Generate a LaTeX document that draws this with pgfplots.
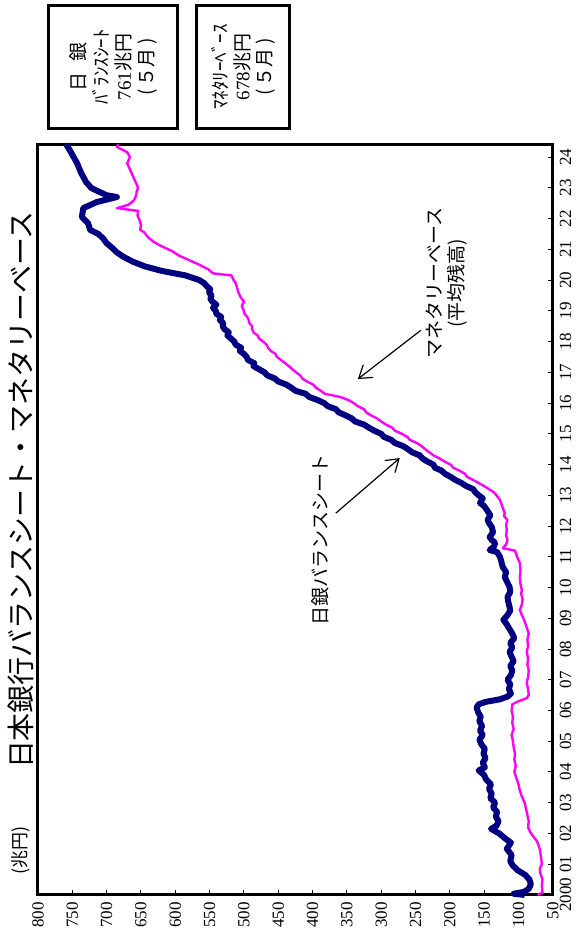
\documentclass[border=0pt]{standalone}
\usepackage{fontspec}
\setmainfont{Liberation Serif}
\newfontfamily\cjk{Noto Sans CJK JP}
\usepackage{graphicx}
\usepackage{pgfplots}
\pgfplotsset{compat=1.18}
\usetikzlibrary{arrows.meta}

\definecolor{bsblue}{RGB}{0,0,128}
\definecolor{mbpink}{RGB}{255,0,255}

\begin{document}
\rotatebox{90}{%
\begin{tikzpicture}
\begin{axis}[
  scale only axis,
  width=375.5pt, height=257.5pt,
  xmin=2000, xmax=2024.42,
  ymin=50, ymax=800,
  xtick={2000,2001,...,2024},
  xticklabels={2000,01,02,03,04,05,06,07,08,09,10,11,12,13,14,15,16,17,18,19,20,21,22,23,24},
  ytick={50,100,...,800},
  tick align=inside,
  xtick pos=bottom, ytick pos=left,
  major tick length=2.5pt,
  axis line style={line width=1.5pt},
  every tick/.style={black, line width=0.5pt},
  ticklabel style={font=\fontsize{8.5}{10}\selectfont},
  /pgf/number format/assume math mode=true,
  clip=false,
]
% マネタリーベース（平均残高）
\addplot[mbpink, line width=1.2pt, line join=round] coordinates {
(2000.00,72) (2000.08,65) (2000.30,66) (2000.50,65) (2000.70,68) (2000.85,69)
(2001.00,66) (2001.20,67) (2001.50,69) (2001.75,73) (2001.95,80) (2002.05,83)
(2002.20,86) (2002.40,85) (2002.60,87) (2002.80,89) (2003.00,91) (2003.20,95)
(2003.40,98) (2003.60,100) (2003.80,103) (2004.00,106) (2004.20,104) (2004.40,106)
(2004.60,105) (2004.80,107) (2005.00,108) (2005.20,110) (2005.40,107) (2005.60,109)
(2005.80,108) (2006.00,110) (2006.20,109) (2006.30,100) (2006.40,88) (2006.50,85)
(2006.70,86) (2006.90,88) (2007.10,86) (2007.30,85) (2007.50,87) (2007.70,86)
(2007.90,88) (2008.10,86) (2008.30,87) (2008.50,85) (2008.70,88) (2008.90,91)
(2009.10,95) (2009.27,98) (2009.45,95) (2009.60,94) (2009.80,96) (2009.92,95)
(2010.10,97) (2010.34,98) (2010.55,97) (2010.80,98) (2011.00,102) (2011.20,105)
(2011.28,123) (2011.40,118) (2011.54,116) (2011.70,118) (2011.87,117) (2012.05,118)
(2012.20,116) (2012.32,121) (2012.42,120) (2012.60,123) (2012.85,127) (2013.00,132)
(2013.10,136) (2013.20,143) (2013.30,150) (2013.40,158) (2013.50,166) (2013.60,175)
(2013.70,178) (2013.80,186) (2013.90,195) (2014.00,199) (2014.10,208) (2014.20,215)
(2014.30,224) (2014.40,230) (2014.50,236) (2014.60,241) (2014.70,248) (2014.80,258)
(2014.90,262) (2015.00,270) (2015.10,280) (2015.20,284) (2015.30,293) (2015.40,300)
(2015.50,306) (2015.60,315) (2015.70,322) (2015.80,325) (2015.90,334) (2016.00,340)
(2016.10,348) (2016.20,360) (2016.30,382) (2016.40,388) (2016.50,395) (2016.60,399)
(2016.70,408) (2016.80,415) (2016.90,418) (2017.00,424) (2017.17,433) (2017.30,440)
(2017.40,446) (2017.50,452) (2017.60,454) (2017.70,461) (2017.80,465) (2017.90,467)
(2018.00,472) (2018.10,478) (2018.20,480) (2018.30,486) (2018.40,488) (2018.50,488)
(2018.60,492) (2018.70,493) (2018.80,495) (2018.90,499) (2019.00,500) (2019.15,503)
(2019.30,500) (2019.45,505) (2019.60,508) (2019.75,510) (2019.90,512) (2020.00,515)
(2020.15,518) (2020.22,545) (2020.35,552) (2020.50,565) (2020.65,580) (2020.80,595)
(2020.95,605) (2021.10,620) (2021.25,632) (2021.40,640) (2021.55,645) (2021.63,651)
(2021.80,650) (2021.95,652) (2022.10,655) (2022.25,654) (2022.34,685) (2022.45,668)
(2022.60,660) (2022.75,657) (2022.90,656) (2023.00,654) (2023.25,659) (2023.45,663)
(2023.60,666) (2023.80,670) (2024.00,666) (2024.16,670) (2024.33,685) (2024.42,683)
};
% 日銀バランスシート
\addplot[bsblue, line width=3pt, line join=round] coordinates {
(2000.00,91) (2000.04,107) (2000.10,92) (2000.20,85) (2000.35,82) (2000.50,84)
(2000.65,90) (2000.80,101) (2000.95,108) (2001.10,112) (2001.30,110) (2001.50,117)
(2001.70,111) (2001.85,120) (2002.00,128) (2002.15,140) (2002.25,132) (2002.40,129)
(2002.55,133) (2002.70,131) (2002.85,137) (2003.00,134) (2003.15,141) (2003.30,139)
(2003.45,143) (2003.60,140) (2003.75,147) (2003.90,150) (2004.05,158) (2004.15,149)
(2004.30,152) (2004.45,148) (2004.60,151) (2004.75,149) (2004.90,154) (2005.05,157)
(2005.20,152) (2005.35,156) (2005.50,153) (2005.65,157) (2005.80,155) (2005.95,159)
(2006.10,161) (2006.20,158) (2006.28,148) (2006.36,128) (2006.45,116) (2006.55,111)
(2006.70,114) (2006.85,112) (2007.00,116) (2007.15,111) (2007.30,109) (2007.45,112)
(2007.60,107) (2007.75,110) (2007.90,113) (2008.05,109) (2008.20,112) (2008.35,106)
(2008.50,109) (2008.65,113) (2008.80,117) (2008.95,122) (2009.10,116) (2009.25,112)
(2009.37,113) (2009.55,115) (2009.69,116) (2009.85,112) (2010.02,113) (2010.20,117)
(2010.34,120) (2010.50,118) (2010.67,123) (2010.85,125) (2011.00,127) (2011.15,131)
(2011.22,142) (2011.32,136) (2011.45,134) (2011.55,139) (2011.64,142) (2011.80,137)
(2011.97,139) (2012.10,143) (2012.20,145) (2012.35,141) (2012.52,146) (2012.65,150)
(2012.75,156) (2012.90,152) (2013.00,158) (2013.10,163) (2013.20,166) (2013.30,176)
(2013.40,183) (2013.50,192) (2013.60,199) (2013.70,207) (2013.80,212) (2013.90,222)
(2014.00,224) (2014.10,233) (2014.20,240) (2014.30,244) (2014.40,255) (2014.50,261)
(2014.60,268) (2014.70,280) (2014.80,285) (2014.90,296) (2015.00,300) (2015.10,310)
(2015.20,318) (2015.30,325) (2015.40,338) (2015.50,343) (2015.60,352) (2015.70,362)
(2015.80,366) (2015.90,378) (2016.00,383) (2016.10,393) (2016.20,405) (2016.30,410)
(2016.40,425) (2016.50,431) (2016.60,438) (2016.70,450) (2016.80,455) (2016.90,466)
(2017.00,470) (2017.10,478) (2017.20,486) (2017.30,485) (2017.40,494) (2017.50,496)
(2017.60,500) (2017.70,506) (2017.80,504) (2017.90,512) (2018.00,514) (2018.10,519)
(2018.20,524) (2018.30,522) (2018.40,528) (2018.50,531) (2018.60,530) (2018.70,535)
(2018.80,533) (2018.90,540) (2019.00,541) (2019.10,545) (2019.20,540) (2019.30,546)
(2019.40,549) (2019.50,547) (2019.60,551) (2019.70,549) (2019.80,554) (2019.90,558)
(2020.00,565) (2020.15,585) (2020.30,620) (2020.45,645) (2020.60,662) (2020.75,675)
(2020.90,685) (2021.05,692) (2021.20,700) (2021.35,705) (2021.50,712) (2021.63,724)
(2021.85,727) (2022.05,736) (2022.34,734) (2022.54,714) (2022.70,685) (2022.76,700)
(2022.99,722) (2023.19,730) (2023.48,737) (2023.80,743) (2024.00,748) (2024.20,753)
(2024.42,759)
};
\node[font=\cjk\fontsize{14}{16}\selectfont] at (axis cs:2013.17,825) {日本銀行バランスシート・マネタリーベース};
\node[font=\cjk\fontsize{9}{10}\selectfont] at (axis cs:2001.46,825) {(兆円)};
\node[font=\cjk\fontsize{9.5}{11}\selectfont] at (axis cs:2011.55,389) {日銀バランスシート};
\node[font=\cjk\fontsize{9.5}{11}\selectfont, align=center] at (axis cs:2019.9,204) {マネタリーベース\\(平均残高)};
\draw[-{Straight Barb[length=6pt,width=8pt]}, line width=0.6pt] (axis cs:2018.37,242) -- (axis cs:2016.78,334);
\draw[-{Straight Barb[length=6pt,width=8pt]}, line width=0.6pt] (axis cs:2012.42,366) -- (axis cs:2014.21,273);
\node[draw, line width=1.5pt, minimum width=62pt, minimum height=64.5pt, inner sep=0pt, align=center,
  font=\fontsize{9.5}{11.2}\selectfont] at (axis cs:2026.93,690)
  {{\cjk 日\hspace{0.6em}銀}\\{\cjk ﾊﾞﾗﾝｽｼｰﾄ}\\761{\cjk 兆円}\\{\cjk (\,５月\,)}};
\node[draw, line width=1.5pt, minimum width=62pt, minimum height=46.5pt, inner sep=0pt, align=center,
  font=\fontsize{9.5}{11.2}\selectfont] at (axis cs:2026.93,501)
  {{\cjk ﾏﾈﾀﾘｰﾍﾞｰｽ}\\678{\cjk 兆円}\\{\cjk (\,５月\,)}};
\coordinate (bbA) at (axis cs:1998.34,3.4);
\coordinate (bbB) at (axis cs:2029.11,855.3);
\end{axis}
\pgfresetboundingbox
\path[use as bounding box] (bbA) rectangle (bbB);
\end{tikzpicture}}
\end{document}
